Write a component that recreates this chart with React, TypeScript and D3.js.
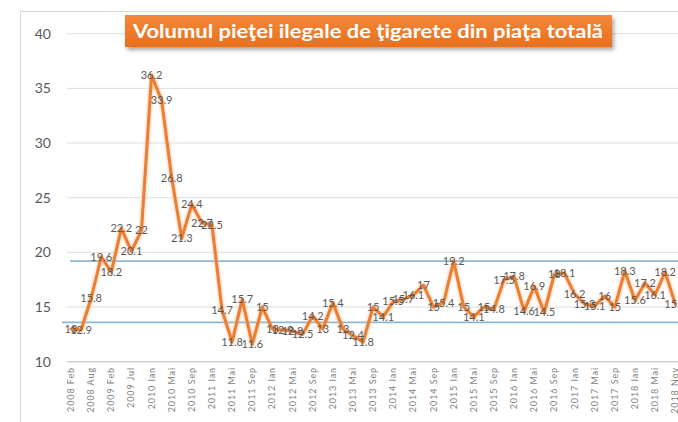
import React from "react";
import * as d3 from "d3";

const TITLE = "Volumul pieţei ilegale de ţigarete din piaţa totală";

const categories: string[] = [
  "2008 Feb", "2008 Mai", "2008 Aug", "2008 Nov", "2009 Feb", "2009 Apr", "2009 Jul", "2009 Oct",
  "2010 Ian", "2010 Mar", "2010 Mai", "2010 Iul", "2010 Sep", "2010 Noi",
  "2011 Ian", "2011 Mar", "2011 Mai", "2011 Iul", "2011 Sep", "2011 Noi",
  "2012 Ian", "2012 Mar", "2012 Mai", "2012 Iul", "2012 Sep", "2012 Noi",
  "2013 Ian", "2013 Mar", "2013 Mai", "2013 Iul", "2013 Sep", "2013 Noi",
  "2014 Ian", "2014 Mar", "2014 Mai", "2014 Iul", "2014 Sep", "2014 Noi",
  "2015 Ian", "2015 Mar", "2015 Mai", "2015 Iul", "2015 Sep", "2015 Noi",
  "2016 Ian", "2016 Mar", "2016 Mai", "2016 Iul", "2016 Sep", "2016 Noi",
  "2017 Ian", "2017 Mar", "2017 Mai", "2017 Iul", "2017 Sep", "2017 Noi",
  "2018 Ian", "2018 Mar", "2018 Mai", "2018 Sep", "2018 Nov",
];

const values: number[] = [
  13, 12.9, 15.8, 19.6, 18.2, 22.2, 20.1, 22,
  36.2, 33.9, 26.8, 21.3, 24.4, 22.7,
  22.5, 14.7, 11.8, 15.7, 11.6, 15,
  13, 12.9, 12.8, 12.5, 14.2, 13,
  15.4, 13, 12.4, 11.8, 15, 14.1,
  15.5, 15.7, 16.1, 17, 15, 15.4,
  19.2, 15, 14.1, 15, 14.8, 17.5,
  17.8, 14.6, 16.9, 14.5, 18, 18.1,
  16.2, 15.3, 15.1, 16, 15, 18.3,
  15.6, 17.2, 16.1, 18.2, 15.3,
];

const yTicks: number[] = [10, 15, 20, 25, 30, 35, 40];
const refLines: number[] = [19.2, 13.6];

const W = 678;
const H = 422;

export default function App() {
  const x = d3.scalePoint<string>().domain(categories).range([71, 675.2]);
  const y = d3.scaleLinear().domain([10, 40]).range([361.7, 33.7]);

  const line = d3
    .line<number>()
    .x((_, i) => x(categories[i]) as number)
    .y((d) => y(d));

  const font = "Lato, 'Liberation Sans', sans-serif";
  const grey = "#595959";

  return (
    <svg
      width={W}
      height={H}
      style={{ position: "absolute", left: 0, top: 0, background: "#fff" }}
    >
      <defs>
        <filter id="shadow" x="-10%" y="-30%" width="120%" height="180%">
          <feDropShadow dx="2" dy="3" stdDeviation="2" floodColor="#000" floodOpacity="0.35" />
        </filter>
        <linearGradient id="titleGrad" x1="0" y1="0" x2="0" y2="1">
          <stop offset="0" stopColor="#f3883a" />
          <stop offset="1" stopColor="#e8701d" />
        </linearGradient>
        <filter id="glow" x="-5%" y="-5%" width="110%" height="110%">
          <feGaussianBlur stdDeviation="0.8" />
        </filter>
      </defs>
      <rect x={0} y={0} width={W} height={H} fill="#fff" />
      {/* chart frame */}
      <rect x={20.5} y={11.5} width={720} height={500} fill="none" stroke="#d9d9d9" strokeWidth={1} />

      {/* gridlines */}
      {yTicks.map((t) => (
        <line
          key={t}
          x1={67}
          x2={W}
          y1={y(t)}
          y2={y(t)}
          stroke={t === 10 ? "#d0d0d0" : "#dedede"}
          strokeWidth={t === 10 ? 1.5 : 1}
        />
      ))}
      {/* y tick labels */}
      {yTicks.map((t) => (
        <text
          key={"l" + t}
          x={51}
          y={y(t)}
          dy="0.35em"
          textAnchor="end"
          fontFamily={font}
          fontSize={14}
          fill={grey}
        >
          {t}
        </text>
      ))}

      {/* reference lines */}
      {refLines.map((r, i) => (
        <line
          key={"r" + r}
          x1={i === 0 ? 70 : 62}
          x2={W}
          y1={y(r)}
          y2={y(r)}
          stroke="#8db8d2"
          strokeWidth={1.6}
        />
      ))}

      {/* series line */}
      <path d={line(values) || ""} fill="none" stroke="#f6b07e" strokeWidth={5} strokeLinejoin="round" opacity={0.5} filter="url(#glow)" />
      <path d={line(values) || ""} fill="none" stroke="#ed7d31" strokeWidth={3} strokeLinejoin="round" strokeLinecap="round" />

      {/* data labels */}
      {values.map((v, i) => (
        <text
          key={"d" + i}
          x={x(categories[i]) as number}
          y={y(v)}
          dy="0.35em"
          textAnchor="middle"
          fontFamily={font}
          fontSize={11}
          fill={grey}
        >
          {String(v)}
        </text>
      ))}

      {/* x labels */}
      {categories.map((c, i) =>
        i % 2 === 0 ? (
          <text
            key={"x" + i}
            transform={`translate(${(x(c) as number) + 3},367) rotate(-90)`}
            textAnchor="end"
            fontFamily={font}
            fontSize={9}
            letterSpacing={0.9}
            fill="#7f7f7f"
          >
            {c}
          </text>
        ) : null
      )}

      {/* title */}
      <g filter="url(#shadow)">
        <rect x={125} y={15} width={487} height={32} fill="url(#titleGrad)" />
      </g>
      <text
        x={368}
        y={37.5}
        textAnchor="middle"
        fontFamily={font}
        fontWeight="bold"
        fontSize={18.5}
        fill="#fff"
        textLength={470}
        lengthAdjust="spacingAndGlyphs"
      >
        {TITLE}
      </text>
    </svg>
  );
}
